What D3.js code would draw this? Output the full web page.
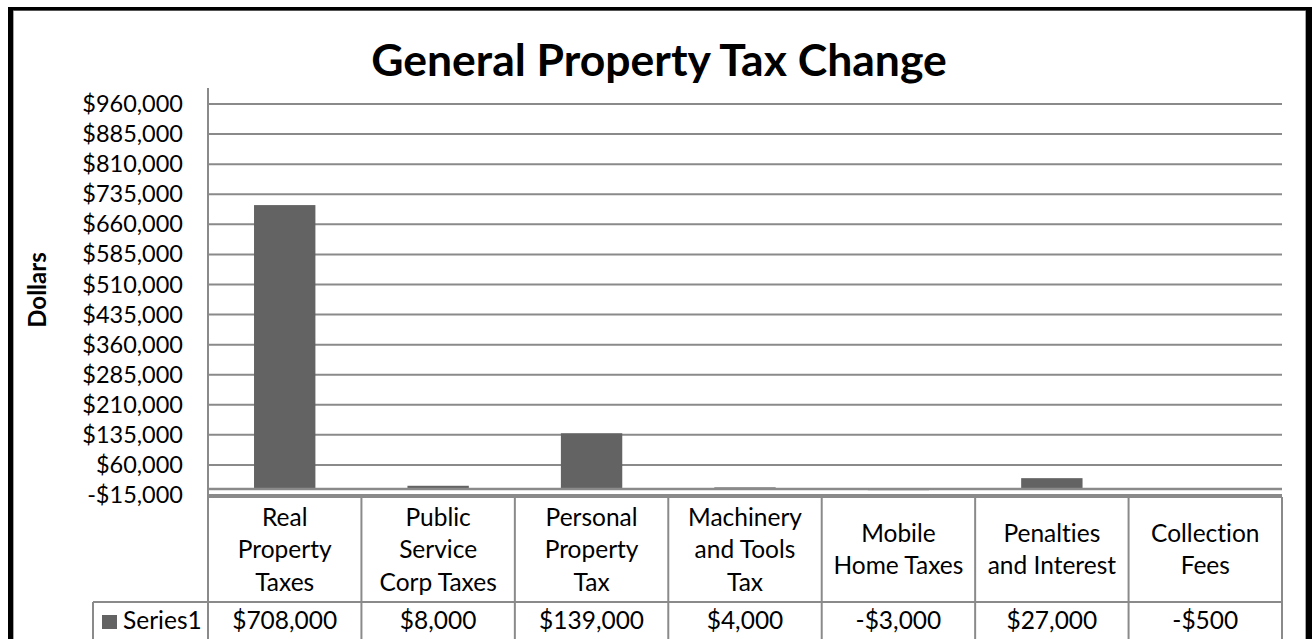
<!DOCTYPE html>
<html>
<head>
<meta charset="utf-8">
<script src="https://cdn.jsdelivr.net/npm/d3@7"></script>
<style>
  html, body { margin: 0; padding: 0; background: #ffffff; }
  svg { display: block; }
  text { font-family: Lato, "Open Sans", "Liberation Sans", sans-serif; fill: #000;
         font-variant-ligatures: none; font-feature-settings: "liga" 0, "clig" 0; }
</style>
</head>
<body>
<svg id="chart" width="1312" height="639"></svg>
<script>
// Category names, one entry per wrapped line of the data-table header
const categories = [
  "Real Property Taxes",
  "Public Service Corp Taxes",
  "Personal Property Tax",
  "Machinery and Tools Tax",
  "Mobile Home Taxes",
  "Penalties and Interest",
  "Collection Fees"
];
const categoryLines = [
  ["Real", "Property", "Taxes"],
  ["Public", "Service", "Corp Taxes"],
  ["Personal", "Property", "Tax"],
  ["Machinery", "and Tools", "Tax"],
  ["Mobile", "Home Taxes"],
  ["Penalties", "and Interest"],
  ["Collection", "Fees"]
];
const seriesName = "Series1";
const seriesValues = [708000, 8000, 139000, 4000, -3000, 27000, -500];
const yTicks = [-15000, 60000, 135000, 210000, 285000, 360000, 435000,
                510000, 585000, 660000, 735000, 810000, 885000, 960000];
const titleText = "General Property Tax Change";
const yAxisTitle = "Dollars";

const svg = d3.select("#chart");
const W = 1312, H = 639;

const plot = { left: 208, right: 1282, top: 88, bottom: 495 };
const gridColor = "#8a8a8a";
const barColor = "#636363";

const money = v => (v < 0 ? "-" : "") + "$" + d3.format(",")(Math.abs(v));

// Chart frame
svg.append("rect").attr("x", 0).attr("y", 0).attr("width", W).attr("height", H).attr("fill", "#fff");
svg.append("rect").attr("x", 13.5).attr("y", 10.5).attr("width", 1292).attr("height", 660)
  .attr("fill", "none").attr("stroke", "#a6a6a6").attr("stroke-width", 1);
svg.append("rect").attr("x", 8).attr("y", 7).attr("width", 5).attr("height", H).attr("fill", "#000");
svg.append("rect").attr("x", 8).attr("y", 7).attr("width", W - 8).attr("height", 3.5).attr("fill", "#000");
svg.append("rect").attr("x", 1306).attr("y", 7).attr("width", 6).attr("height", H).attr("fill", "#000");

// Scales
const y = d3.scaleLinear().domain([-15000, 1000000]).range([plot.bottom, plot.top]);
const x = d3.scaleBand().domain(categories).range([plot.left, plot.right])
  .paddingInner(0.6).paddingOuter(0.3);
const col = d3.scaleBand().domain(categories).range([plot.left, plot.right]).padding(0);

// Title
svg.append("text")
  .attr("x", 659).attr("y", 76)
  .attr("text-anchor", "middle")
  .attr("font-size", 44.5).attr("font-weight", "bold")
  .text(titleText);

// Y axis title
svg.append("text")
  .attr("transform", "translate(46,290) rotate(-90)")
  .attr("text-anchor", "middle")
  .attr("font-size", 24).attr("font-weight", "bold")
  .text(yAxisTitle);

// Gridlines
svg.append("g").selectAll("line").data(yTicks).join("line")
  .attr("x1", plot.left).attr("x2", plot.right)
  .attr("y1", d => y(d)).attr("y2", d => y(d))
  .attr("stroke", gridColor).attr("stroke-width", 2);

// Y axis labels
const yAxis = d3.axisLeft(y).tickValues(yTicks).tickSize(0).tickPadding(25)
  .tickFormat(money);
const gy = svg.append("g").attr("transform", `translate(${plot.left},0)`).call(yAxis);
gy.select(".domain").remove();
gy.selectAll("text").attr("font-size", 23.5).attr("font-family", null).attr("fill", "#000");

// Bars
svg.append("g").selectAll("rect").data(seriesValues).join("rect")
  .attr("x", (d, i) => x(categories[i]))
  .attr("width", x.bandwidth())
  .attr("y", d => y(Math.max(0, d)))
  .attr("height", d => Math.abs(y(d) - y(0)))
  .attr("fill", barColor);

// Horizontal (category) axis at zero
svg.append("line")
  .attr("x1", plot.left).attr("x2", plot.right)
  .attr("y1", y(0)).attr("y2", y(0))
  .attr("stroke", gridColor).attr("stroke-width", 2.5);

// Vertical value axis line
svg.append("line")
  .attr("x1", plot.left).attr("x2", plot.left)
  .attr("y1", plot.top).attr("y2", H + 5)
  .attr("stroke", gridColor).attr("stroke-width", 2);

// Data table
const tableTop = 497, headerBottom = 602, rowBottom = 660, legendLeft = 93;
const tg = svg.append("g");
tg.append("line").attr("x1", plot.left).attr("x2", plot.right)
  .attr("y1", tableTop).attr("y2", tableTop).attr("stroke", gridColor).attr("stroke-width", 2);
tg.append("line").attr("x1", legendLeft).attr("x2", plot.right)
  .attr("y1", headerBottom).attr("y2", headerBottom).attr("stroke", gridColor).attr("stroke-width", 2);
tg.append("line").attr("x1", legendLeft).attr("x2", legendLeft)
  .attr("y1", headerBottom).attr("y2", rowBottom).attr("stroke", gridColor).attr("stroke-width", 2);
tg.selectAll("line.sep").data(categories).join("line").attr("class", "sep")
  .attr("x1", d => col(d) + col.bandwidth()).attr("x2", d => col(d) + col.bandwidth())
  .attr("y1", tableTop).attr("y2", rowBottom)
  .attr("stroke", gridColor).attr("stroke-width", 2);

// Header labels
const lineH = 32.5, headerMid = (tableTop + headerBottom) / 2;
categories.forEach((c, i) => {
  const lines = categoryLines[i];
  const t = tg.append("text")
    .attr("text-anchor", "middle")
    .attr("font-size", 24.5);
  lines.forEach((ln, k) => {
    t.append("tspan")
      .attr("x", col(c) + col.bandwidth() / 2)
      .attr("y", headerMid + 8.5 + (k - (lines.length - 1) / 2) * lineH)
      .text(ln);
  });
});

// Value row
tg.selectAll("text.val").data(seriesValues).join("text").attr("class", "val")
  .attr("x", (d, i) => col(categories[i]) + col.bandwidth() / 2)
  .attr("y", 629)
  .attr("text-anchor", "middle")
  .attr("font-size", 24.5)
  .text(d => money(d));

// Legend key in table
tg.append("rect").attr("x", 102).attr("y", 615).attr("width", 15).attr("height", 14).attr("fill", barColor);
tg.append("text").attr("x", 123).attr("y", 629).attr("font-size", 24.5).text(seriesName);
</script>
</body>
</html>
